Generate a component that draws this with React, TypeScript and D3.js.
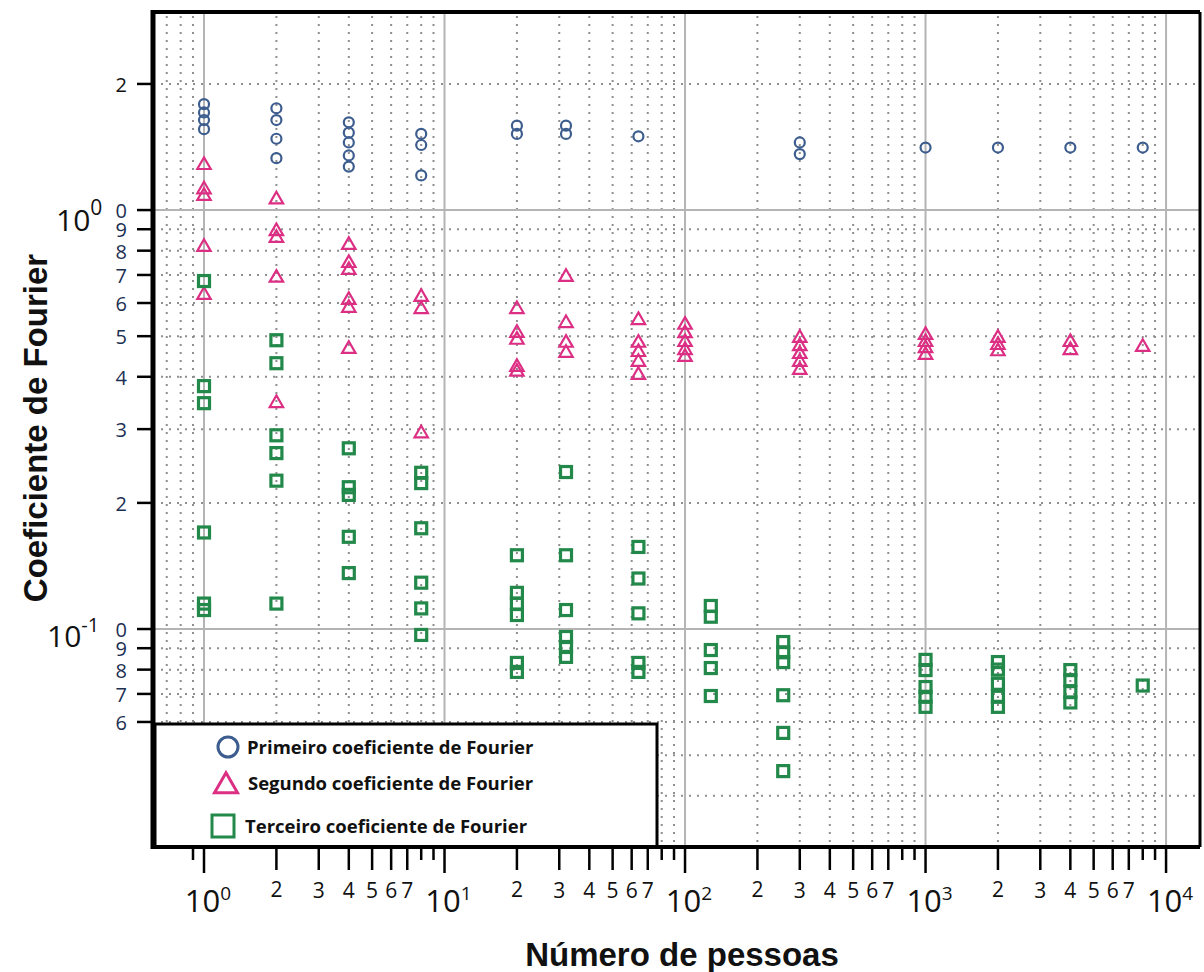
import React from 'react';
import * as d3 from 'd3';

// ---------- data ----------
const primeiroColunas = [1, 2, 4, 8, 20, 32, 64, 300, 1000, 2000, 4000, 8000];
const primeiroValores = [
  [1.79, 1.71, 1.64, 1.56],
  [1.75, 1.64, 1.48, 1.33],
  [1.62, 1.53, 1.45, 1.35, 1.27],
  [1.52, 1.43, 1.21],
  [1.59, 1.52],
  [1.59, 1.52],
  [1.5],
  [1.45, 1.36],
  [1.41],
  [1.41],
  [1.41],
  [1.41],
];

const segundoColunas = [1, 2, 4, 8, 20, 32, 64, 100, 300, 1000, 2000, 4000, 8000];
const segundoValores = [
  [1.28, 1.12, 1.08, 0.816, 0.627],
  [1.06, 0.89, 0.858, 0.689, 0.346],
  [0.825, 0.747, 0.719, 0.61, 0.584, 0.466],
  [0.62, 0.58, 0.293],
  [0.58, 0.509, 0.49, 0.422, 0.411],
  [0.692, 0.537, 0.482, 0.456],
  [0.546, 0.482, 0.458, 0.434, 0.404],
  [0.532, 0.508, 0.484, 0.463, 0.446],
  [0.495, 0.473, 0.453, 0.434, 0.415],
  [0.503, 0.484, 0.468, 0.451],
  [0.495, 0.476, 0.46],
  [0.484, 0.463],
  [0.471],
];

const terceiroColunas = [1, 2, 4, 8, 20, 32, 64, 128, 256, 1000, 2000, 4000, 8000];
const terceiroValores = [
  [0.677, 0.38, 0.346, 0.17, 0.115, 0.111],
  [0.489, 0.431, 0.29, 0.263, 0.226, 0.115],
  [0.27, 0.218, 0.209, 0.166, 0.136],
  [0.236, 0.223, 0.174, 0.129, 0.112, 0.0968],
  [0.15, 0.122, 0.115, 0.108, 0.083, 0.079],
  [0.237, 0.15, 0.111, 0.0957, 0.0906, 0.0858],
  [0.157, 0.132, 0.109, 0.083, 0.079],
  [0.1135, 0.107, 0.0891, 0.0807, 0.0692],
  [0.0931, 0.088, 0.0834, 0.0695, 0.0565, 0.0458],
  [0.0844, 0.0798, 0.0727, 0.0689, 0.0652],
  [0.0834, 0.08, 0.074, 0.0689, 0.0652],
  [0.0798, 0.0755, 0.0707, 0.0668],
  [0.0733],
];

const xDecadas = [0, 1, 2, 3, 4];
const xRotulosMenores = [2, 3, 4, 5, 6, 7];
const xMarcasCurtas = [0.9, 8, 9, 80, 90, 800, 900, 8000, 9000];
const yMarcas = [2, 1, 0.9, 0.8, 0.7, 0.6, 0.5, 0.4, 0.3, 0.2, 0.1, 0.09, 0.08, 0.07, 0.06];
const yRotulos = ['2', '0', '9', '8', '7', '6', '5', '4', '3', '2', '0', '9', '8', '7', '6'];

const legendaTextos = [
  'Primeiro coeficiente de Fourier',
  'Segundo coeficiente de Fourier',
  'Terceiro coeficiente de Fourier',
];

// ---------- layout ----------
const W = 1204;
const H = 972;
const P = { left: 153, right: 1200, top: 12, bottom: 847 };
const AZUL = '#3d5d8e';
const ROSA = '#dc2f84';
const VERDE = '#23894a';
const GRADE = '#8f8f8f';

export default function App() {
  const x = d3.scaleLog().domain([0.6137, 13840]).range([P.left, P.right]);
  const y = d3.scaleLog().domain([0.03018, 2.97]).range([P.bottom, P.top]);

  const flat = (cols: number[], vals: number[][]) =>
    cols.flatMap((c, i) => vals[i].map((v) => ({ c, v })));

  const p1 = flat(primeiroColunas, primeiroValores);
  const p2 = flat(segundoColunas, segundoValores);
  const p3 = flat(terceiroColunas, terceiroValores);

  const tri = d3.symbol().type(d3.symbolTriangle).size(78)()!;
  const triLeg = d3.symbol().type(d3.symbolTriangle).size(230)()!;

  // minor grid
  const xMinors: number[] = [];
  for (let d = -1; d <= 3; d++) for (let k = 2; k <= 9; k++) {
    const v = k * Math.pow(10, d);
    if (v > 0.62 && v < 13800) xMinors.push(v);
  }
  const yMinors: number[] = [];
  for (let d = -2; d <= 0; d++) for (let k = 2; k <= 9; k++) {
    const v = k * Math.pow(10, d);
    if (v > 0.031 && v < 2.9) yMinors.push(v);
  }

  const xLongTicks: number[] = [];
  for (let d = 0; d <= 3; d++) for (const k of xRotulosMenores) xLongTicks.push(k * Math.pow(10, d));

  return (
    <svg width={W} height={H} style={{ position: 'absolute', left: 0, top: 0, background: '#fff' }}
      fontFamily="'Open Sans', sans-serif">
      <rect x={0} y={0} width={W} height={H} fill="#fff" />
      {/* dotted minor grid */}
      <g stroke={GRADE} strokeWidth={2} strokeDasharray="2,6" fill="none">
        {xMinors.map((v, i) => (
          <line key={'xm' + i} x1={x(v)} x2={x(v)} y1={P.top + 4} y2={P.bottom} />
        ))}
        {yMinors.map((v, i) => (
          <line key={'ym' + i} x1={P.left} x2={P.right} y1={y(v)} y2={y(v)} />
        ))}
      </g>
      {/* solid decade grid */}
      <g stroke="#b4b4b4" strokeWidth={2}>
        {xDecadas.map((d) => (
          <line key={'xd' + d} x1={x(Math.pow(10, d))} x2={x(Math.pow(10, d))} y1={P.top} y2={P.bottom} />
        ))}
        {[1, 0.1].map((v) => (
          <line key={'yd' + v} x1={P.left} x2={P.right} y1={y(v)} y2={y(v)} />
        ))}
      </g>

      {/* data */}
      <g fill="none" stroke={AZUL} strokeWidth={2.2}>
        {p1.map((p, i) => (
          <circle key={'c' + i} cx={x(p.c)} cy={y(p.v)} r={5} />
        ))}
      </g>
      <g fill="none" stroke={ROSA} strokeWidth={2.2}>
        {p2.map((p, i) => (
          <path key={'t' + i} d={tri} transform={`translate(${x(p.c)},${y(p.v)})`} />
        ))}
      </g>
      <g fill="none" stroke={VERDE} strokeWidth={3.2}>
        {p3.map((p, i) => (
          <rect key={'s' + i} x={x(p.c) - 5.5} y={y(p.v) - 5.5} width={11} height={11} />
        ))}
      </g>

      {/* legend */}
      <rect x={155} y={724} width={502} height={123} fill="#fff" stroke="#000" strokeWidth={3} />
      <circle cx={228} cy={747} r={10} fill="none" stroke={AZUL} strokeWidth={3} />
      <path d={triLeg} transform="translate(226,786)" fill="none" stroke={ROSA} strokeWidth={3} />
      <rect x={212} y={815} width={22} height={22} fill="none" stroke={VERDE} strokeWidth={3} />
      <g fontSize={18.5} fontWeight="bold" fill="#111">
        <text x={247} y={754}>{legendaTextos[0]}</text>
        <text x={248} y={790}>{legendaTextos[1]}</text>
        <text x={245} y={833}>{legendaTextos[2]}</text>
      </g>

      {/* frame */}
      <g stroke="#000" fill="none">
        <line x1={P.left} x2={P.right} y1={P.top} y2={P.top} strokeWidth={4} />
        <line x1={P.right} x2={P.right} y1={P.top} y2={P.bottom} strokeWidth={3} />
        <line x1={P.left} x2={P.left} y1={P.top - 2} y2={P.bottom + 2} strokeWidth={5} />
        <line x1={P.left} x2={P.right} y1={P.bottom} y2={P.bottom} strokeWidth={4} />
      </g>

      {/* x ticks */}
      <g stroke="#000" strokeWidth={2.5}>
        {xDecadas.map((d) => (
          <line key={'xt' + d} x1={x(Math.pow(10, d))} x2={x(Math.pow(10, d))} y1={P.bottom} y2={P.bottom + 26} />
        ))}
        {xLongTicks.map((v, i) => (
          <line key={'xl' + i} x1={x(v)} x2={x(v)} y1={P.bottom} y2={P.bottom + 23} />
        ))}
        {xMarcasCurtas.map((v, i) => (
          <line key={'xs' + i} x1={x(v)} x2={x(v)} y1={P.bottom} y2={P.bottom + 13} />
        ))}
      </g>
      <g fill="#111" textAnchor="middle">
        {xDecadas.map((d) => (
          <text key={'xdl' + d} x={x(Math.pow(10, d)) + 4} y={912} fontSize={31}>
            10<tspan dy={-12} fontSize={19}>{d}</tspan>
          </text>
        ))}
        {[0, 1, 2, 3].flatMap((d) =>
          xRotulosMenores.map((k) => (
            <text key={'xml' + d + k} x={x(k * Math.pow(10, d))} y={897 + (k === 2 ? 0 : 1)} fontSize={21}>
              {k}
            </text>
          ))
        )}
      </g>

      {/* y ticks */}
      <g stroke="#000" strokeWidth={2.5}>
        {yMarcas.map((v, i) => (
          <line key={'yt' + i} x1={P.left - 16} x2={P.left} y1={y(v)} y2={y(v)} />
        ))}
      </g>
      <g fontSize={20} textAnchor="end">
        {yMarcas.map((v, i) => (
          <text key={'yl' + i} x={127} y={y(v) + 8} fill={i === 0 ? '#111' : '#1c2f52'}>
            {yRotulos[i]}
          </text>
        ))}
      </g>
      <g fill="#111" fontSize={30}>
        <text x={56} y={231}>
          10<tspan dy={-16} fontSize={21}>0</tspan>
        </text>
        <text x={47} y={647}>
          10<tspan dy={-15} fontSize={20}>-1</tspan>
        </text>
      </g>

      {/* axis titles */}
      <text x={682} y={966} textAnchor="middle" fontFamily="'Liberation Sans', Arial, sans-serif"
        fontWeight="bold" fontSize={33} fill="#111">
        Número de pessoas
      </text>
      <text transform="translate(47,428) rotate(-90)" textAnchor="middle"
        fontFamily="'Liberation Sans', Arial, sans-serif" fontWeight="bold" fontSize={33} fill="#111">
        Coeficiente de Fourier
      </text>
    </svg>
  );
}
